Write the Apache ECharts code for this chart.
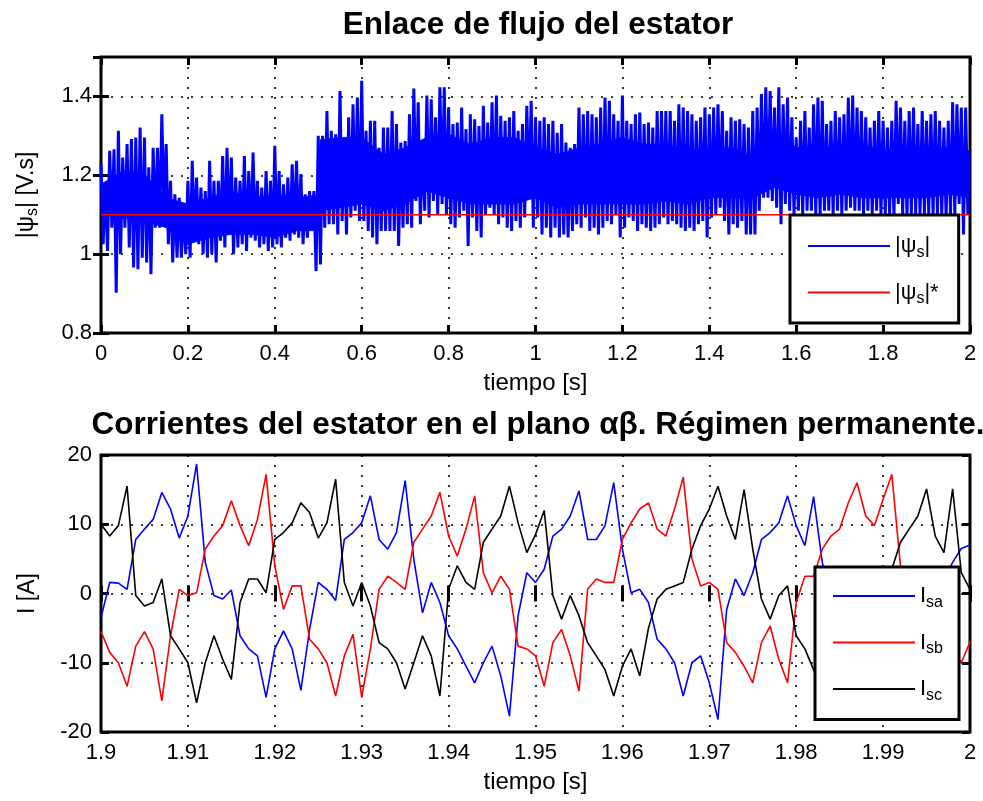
<!DOCTYPE html>
<html>
<head>
<meta charset="utf-8">
<script src="https://cdn.jsdelivr.net/npm/echarts@6/dist/echarts.min.js"></script>
<style>
  html, body { margin: 0; padding: 0; background: #fff; }
  #chart { width: 983px; height: 801px; }
</style>
</head>
<body>
<div id="chart"></div>
<script>
// Stator flux magnitude |psi_s| (V.s): upper and lower excursion in each 10 ms window, t = 0 .. 2 s
const fluxHi = [
  1.23, 1.177, 1.262, 1.266, 1.313, 1.245, 1.279, 1.292, 1.296, 1.321,
  1.296, 1.22, 1.27, 1.27, 1.355, 1.279, 1.186, 1.152, 1.143, 1.118,
  1.186, 1.237, 1.194, 1.169, 1.16, 1.237, 1.186, 1.186, 1.249, 1.27,
  1.245, 1.194, 1.186, 1.249, 1.211, 1.258, 1.186, 1.169, 1.211, 1.186,
  1.275, 1.211, 1.177, 1.194, 1.228, 1.237, 1.203, 1.152, 1.16, 1.16,
  1.3, 1.3, 1.363, 1.313, 1.304, 1.414, 1.279, 1.347, 1.38, 1.397,
  1.44, 1.313, 1.338, 1.338, 1.27, 1.321, 1.321, 1.363, 1.33, 1.283,
  1.287, 1.355, 1.42, 1.385, 1.287, 1.402, 1.393, 1.347, 1.423, 1.423,
  1.372, 1.33, 1.334, 1.372, 1.317, 1.355, 1.342, 1.325, 1.376, 1.334,
  1.385, 1.402, 1.351, 1.338, 1.347, 1.363, 1.313, 1.33, 1.376, 1.389,
  1.347, 1.338, 1.347, 1.33, 1.338, 1.308, 1.33, 1.283, 1.27, 1.279,
  1.372, 1.355, 1.363, 1.355, 1.347, 1.372, 1.397, 1.389, 1.355, 1.338,
  1.402, 1.338, 1.33, 1.355, 1.359, 1.33, 1.334, 1.321, 1.363, 1.363,
  1.363, 1.363, 1.338, 1.38, 1.372, 1.363, 1.355, 1.338, 1.347, 1.372,
  1.355, 1.372, 1.38, 1.363, 1.313, 1.347, 1.338, 1.342, 1.33, 1.321,
  1.363, 1.372, 1.406, 1.423, 1.414, 1.372, 1.423, 1.38, 1.397, 1.347,
  1.296, 1.338, 1.363, 1.321, 1.38, 1.397, 1.389, 1.33, 1.338, 1.363,
  1.347, 1.355, 1.397, 1.402, 1.372, 1.363, 1.347, 1.321, 1.338, 1.363,
  1.338, 1.321, 1.338, 1.389, 1.372, 1.338, 1.363, 1.372, 1.33, 1.363,
  1.338, 1.355, 1.363, 1.338, 1.321, 1.338, 1.385, 1.38, 1.372, 1.372
];
const fluxLo = [
  1.025, 1.008, 1.067, 0.902, 1.0, 1.067, 1.017, 0.966, 0.962, 0.991,
  0.979, 0.949, 1.067, 1.067, 1.11, 1.025, 0.979, 0.991, 0.991, 1.0,
  0.991, 1.042, 1.025, 1.0, 0.991, 1.0, 0.979, 1.034, 1.017, 1.05,
  1.0, 1.017, 1.025, 1.008, 1.042, 1.034, 1.017, 1.025, 1.008, 1.017,
  1.025, 1.017, 1.042, 1.034, 1.05, 1.042, 1.025, 1.042, 1.067, 0.957,
  0.974, 1.067, 1.076, 1.076, 1.05, 1.084, 1.05, 1.093, 1.11, 1.084,
  1.084, 1.059, 1.042, 1.025, 1.059, 1.059, 1.059, 1.059, 1.021, 1.067,
  1.076, 1.067, 1.135, 1.076, 1.11, 1.093, 1.135, 1.101, 1.127, 1.101,
  1.076, 1.067, 1.093, 1.11, 1.021, 1.093, 1.059, 1.042, 1.101, 1.118,
  1.101, 1.076, 1.093, 1.067, 1.059, 1.084, 1.067, 1.093, 1.143, 1.067,
  1.093, 1.05, 1.067, 1.042, 1.067, 1.042, 1.05, 1.042, 1.059, 1.076,
  1.067, 1.093, 1.059, 1.067, 1.05, 1.067, 1.084, 1.076, 1.101, 1.042,
  1.067, 1.093, 1.084, 1.059, 1.076, 1.067, 1.059, 1.067, 1.076, 1.093,
  1.076, 1.084, 1.076, 1.067, 1.059, 1.067, 1.059, 1.076, 1.084, 1.042,
  1.093, 1.101, 1.118, 1.084, 1.05, 1.076, 1.067, 1.084, 1.05, 1.05,
  1.05, 1.11, 1.143, 1.143, 1.135, 1.118, 1.076, 1.127, 1.11, 1.101,
  1.11, 1.101, 1.11, 1.11, 1.101, 1.093, 1.11, 1.11, 1.101, 1.11,
  1.101, 1.11, 1.118, 1.11, 1.11, 1.101, 1.11, 1.101, 1.11, 1.101,
  1.101, 1.101, 1.093, 1.127, 1.101, 1.093, 1.101, 1.101, 1.101, 1.101,
  1.101, 1.101, 1.101, 1.101, 1.093, 1.101, 1.101, 1.127, 1.05, 1.101
];
const fluxWindow = 0.01;   // s

// Dense part of the flux trace (V.s): times and the band the oscillation keeps filling
const coreT = [
  0, 0.05, 0.1, 0.15, 0.2, 0.25, 0.3, 0.35, 0.4, 0.45, 0.5,
  0.505,
  0.55, 0.6, 0.65, 0.7, 0.75, 0.8, 0.85, 0.9, 0.95, 1.0,
  1.05, 1.1, 1.15, 1.2, 1.25, 1.3, 1.35, 1.4, 1.45, 1.5,
  1.55, 1.6, 1.65, 1.7, 1.75, 1.8, 1.85, 1.9, 1.95, 2.0
];
const coreHi = [
  1.177, 1.211, 1.203, 1.143, 1.127, 1.143, 1.16, 1.143, 1.152, 1.143, 1.15,
  1.29,
  1.296, 1.296, 1.253, 1.27, 1.296, 1.304, 1.279, 1.296, 1.296, 1.27,
  1.253, 1.27, 1.279, 1.296, 1.279, 1.279, 1.262, 1.27, 1.27, 1.245,
  1.313, 1.27, 1.27, 1.27, 1.279, 1.262, 1.262, 1.27, 1.27, 1.262
];
const coreLo = [
  1.101, 1.093, 1.084, 1.067, 1.025, 1.042, 1.05, 1.05, 1.042, 1.059, 1.06,
  1.11,
  1.118, 1.127, 1.11, 1.127, 1.16, 1.143, 1.127, 1.127, 1.127, 1.143,
  1.118, 1.127, 1.127, 1.127, 1.127, 1.135, 1.127, 1.143, 1.143, 1.143,
  1.169, 1.152, 1.143, 1.152, 1.143, 1.143, 1.143, 1.143, 1.152, 1.143
];
const fluxRef = 1.1;       // |psi_s|* (V.s)
const fluxSpan = [0, 2];   // s

// Stator phase currents (A), one sample per millisecond from t = 1.9 s
const iSa = [
  -3.5, 1.6, 1.5, 0.6, 7.8, 9.3, 10.7, 14.6, 12.2, 8.0,
  11.2, 18.7, 4.5, -0.3, -0.8, 0.5, -6.1, -8.0, -9.0, -15.0,
  -8.0, -5.4, -8.0, -14.0, -5.2, 1.6, 0.6, -1.0, 7.8, 8.8,
  10.2, 14.1, 7.8, 6.4, 8.8, 16.3, 4.9, -2.8, 1.6, -1.3,
  -6.1, -8.0, -10.5, -12.9, -10.0, -7.6, -11.9, -17.7, -3.2, 3.0,
  1.6, 3.5, 8.3, 9.3, 11.2, 14.8, 7.8, 7.8, 9.8, 16.0,
  6.4, 0.1, 0.6, -1.3, -6.6, -8.0, -10.0, -14.8, -10.0, -9.0,
  -12.9, -18.2, -2.3, 2.1, -0.3, 3.0, 7.8, 8.8, 10.2, 14.1,
  9.8, 6.9, 14.0, 4.5, -0.5, 0.5, -1.0, -5.0, -7.0, -8.0,
  -10.0, -12.0, -9.0, -8.0, -14.0, -16.0, -5.0, 2.0, 4.5, 6.5, 7.0
];
const iSb = [
  -5.5, -8.5, -10.0, -13.4, -7.6, -5.5, -8.0, -15.5, -6.1, 0.6,
  -0.3, 0.1, 6.4, 8.3, 9.8, 13.4, 9.8, 6.9, 10.7, 17.2,
  4.0, -2.3, 1.1, 1.1, -6.6, -8.0, -10.0, -14.8, -9.0, -5.9,
  -15.0, -8.0, 0.6, 2.5, 1.6, 0.6, 7.4, 9.3, 11.2, 14.6,
  8.3, 5.4, 9.3, 14.1, 3.0, 0.1, 2.5, 0.6, -7.6, -8.0,
  -9.0, -13.4, -7.1, -5.2, -9.0, -14.1, 0.6, 2.1, 1.6, 1.6,
  7.8, 10.2, 12.2, 13.1, 9.3, 8.3, 12.2, 16.8, 5.0, 1.1,
  1.6, 0.6, -7.1, -8.5, -10.5, -12.9, -7.1, -4.7, -9.5, -12.9,
  -1.3, 2.5, 2.5, 6.4, 8.3, 9.3, 13.1, 16.0, 11.2, 9.8,
  13.6, 17.2, 4.0, 0.0, 1.0, 0.0, -4.0, -7.0, -8.0, -10.0, -7.0
];
const iSc = [
  10.0, 8.3, 9.8, 15.5, -0.3, -1.8, -1.3, 2.1, -6.1, -8.0,
  -10.0, -15.8, -10.0, -6.1, -9.5, -12.4, -1.3, 2.1, 2.1, 0.1,
  7.8, 8.8, 10.2, 13.1, 11.7, 8.0, 10.2, 16.5, 1.6, -1.8,
  1.6, -1.8, -7.1, -8.0, -10.0, -13.8, -10.0, -6.1, -9.0, -14.8,
  0.6, 4.0, 1.6, 0.6, 7.4, 9.3, 11.2, 15.5, 10.2, 5.9,
  8.5, 12.0, -0.3, -3.7, -0.3, -3.2, -7.1, -9.0, -11.0, -14.8,
  -10.5, -8.0, -11.9, -5.0, -0.8, 0.6, 1.1, 1.6, 6.4, 9.8,
  12.2, 15.5, 11.2, 7.8, 15.0, 6.4, -0.8, -3.7, -0.3, 1.1,
  -6.1, -8.0, -11.0, -14.0, -12.0, -9.0, -11.0, -14.0, -5.0, 0.0,
  2.0, 3.5, 7.4, 9.3, 11.2, 15.1, 8.3, 5.9, 15.1, 3.0, 0.6
];
const currentStart = 1.9;   // s
const currentStep = 0.001;  // s

const FONT = '"Liberation Sans", Arial, Helvetica, sans-serif';
const BLUE = '#0000ff';

// flux trace: each window contributes its high then its low excursion
const fluxData = [];
fluxHi.forEach((hi, k) => {
  fluxData.push([k * fluxWindow, hi]);
  fluxData.push([k * fluxWindow + fluxWindow / 2, fluxLo[k]]);
});
// dense band: one [t, low, high] row per sample, filled segment by segment
const coreData = coreT.map((t, i) => [t, coreLo[i], coreHi[i]]);
function renderCore(params, api) {
  const i = params.dataIndex;
  if (i >= coreData.length - 1) return null;
  const a = coreData[i], b = coreData[i + 1];
  const pts = [
    api.coord([a[0], a[1]]), api.coord([a[0], a[2]]),
    api.coord([b[0], b[2]]), api.coord([b[0], b[1]])
  ];
  return {
    type: 'polygon',
    shape: { points: pts },
    style: { fill: BLUE, stroke: BLUE, lineWidth: 0.8 }
  };
}
const refData = fluxSpan.map(t => [t, fluxRef]);
const toTime = arr => arr.map((v, i) => [currentStart + i * currentStep, v]);

const tickFmt = v => String(+v.toFixed(3));

function xPair(grid, min, max, interval, name, nameGap) {
  const common = {
    type: 'value', gridIndex: grid, min, max, interval,
    axisLine: { show: false },
    axisTick: { show: true, inside: true, length: 8, lineStyle: { color: '#000', width: 3 } }
  };
  return [
    Object.assign({}, common, {
      position: 'bottom',
      name, nameLocation: 'middle', nameGap,
      nameTextStyle: { fontFamily: FONT, fontSize: 24, color: '#000' },
      axisLabel: { show: true, margin: 10, fontFamily: FONT, fontSize: 22, color: '#000', formatter: tickFmt },
      splitLine: { show: true, lineStyle: { color: '#000', width: 1.6, type: [2, 8] } }
    }),
    Object.assign({}, common, {
      position: 'top', axisLabel: { show: false }, splitLine: { show: false }
    })
  ];
}
function yPair(grid, min, max, interval, name, nameGap) {
  const common = {
    type: 'value', gridIndex: grid, min, max, interval,
    axisLine: { show: false },
    axisTick: { show: true, inside: true, length: 8, lineStyle: { color: '#000', width: 3 } }
  };
  const lastOnGrid = Math.abs(min + Math.round((max - min) / interval) * interval - max) < 1e-9;
  return [
    Object.assign({}, common, {
      position: 'left',
      name, nameLocation: 'middle', nameGap, nameRotate: 90,
      nameTextStyle: {
        fontFamily: FONT, fontSize: 23, color: '#000',
        rich: {
          t: { fontFamily: FONT, fontSize: 23, color: '#000' },
          s: { fontFamily: FONT, fontSize: 16, color: '#000', padding: [12, 0, 0, 0] }
        }
      },
      axisLabel: { show: true, margin: 9, fontFamily: FONT, fontSize: 22, color: '#000', formatter: tickFmt, showMaxLabel: lastOnGrid },
      splitLine: { show: true, lineStyle: { color: '#000', width: 1.6, type: [2, 8] } }
    }),
    Object.assign({}, common, {
      position: 'right', axisLabel: { show: false }, splitLine: { show: false }
    })
  ];
}

const legendRich = {
  t: { fontFamily: FONT, fontSize: 22, color: '#000' },
  s: { fontFamily: FONT, fontSize: 16, color: '#000', padding: [13, 0, 0, 0] }
};
const legendLabels = {
  'psi': '{t||ψ}{s|s}{t||}',
  'psiRef': '{t||ψ}{s|s}{t||*}',
  'Isa': '{t|I}{s|sa}',
  'Isb': '{t|I}{s|sb}',
  'Isc': '{t|I}{s|sc}'
};
const legendBase = {
  orient: 'vertical',
  icon: 'rect', itemWidth: 82, itemHeight: 2,
  backgroundColor: '#fff', borderColor: '#000', borderWidth: 3, borderRadius: 0,
  selectedMode: false,
  formatter: n => legendLabels[n],
  textStyle: { fontFamily: FONT, fontSize: 22, color: '#000', rich: legendRich }
};

const chart = echarts.init(document.getElementById('chart'), null, { renderer: 'canvas' });
chart.setOption({
  animation: false,
  backgroundColor: '#fff',
  title: [
    { text: 'Enlace de flujo del estator', left: 533, top: 4, textAlign: 'center',
      textStyle: { fontFamily: FONT, fontSize: 31.5, fontWeight: 'bold', color: '#000' } },
    { text: 'Corrientes del estator en el plano αβ. Régimen permanente.', left: 533, top: 404, textAlign: 'center',
      textStyle: { fontFamily: FONT, fontSize: 31.5, fontWeight: 'bold', color: '#000' } }
  ],
  grid: [
    { left: 101, top: 57, width: 869, height: 276, show: true, borderColor: '#000', borderWidth: 3, backgroundColor: '#fff' },
    { left: 101, top: 455, width: 869, height: 277, show: true, borderColor: '#000', borderWidth: 3, backgroundColor: '#fff' }
  ],
  xAxis: [
    ...xPair(0, 0, 2, 0.2, 'tiempo [s]', 38),
    ...xPair(1, 1.9, 2.0, 0.01, 'tiempo [s]', 38)
  ],
  yAxis: [
    ...yPair(0, 0.8, 1.5, 0.2, '{t||ψ}{s|s}{t|| [V.s]}', 60),
    ...yPair(1, -20, 20, 10, 'I [A]', 62)
  ],
  legend: [
    Object.assign({}, legendBase, { data: ['psi', 'psiRef'], left: 790, top: 215, padding: [20, 20, 16, 18], itemGap: 21 }),
    Object.assign({}, legendBase, { data: ['Isa', 'Isb', 'Isc'], left: 815, top: 567, padding: [18, 16, 16, 18], itemGap: 21 })
  ],
  series: [
    { name: 'psiCore', type: 'custom', xAxisIndex: 0, yAxisIndex: 0, data: coreData,
      encode: { x: 0, y: [1, 2] }, renderItem: renderCore, silent: true },
    { name: 'psi', type: 'line', xAxisIndex: 0, yAxisIndex: 0, data: fluxData, showSymbol: false,
      lineStyle: { color: BLUE, width: 3 }, itemStyle: { color: BLUE } },
    { name: 'psiRef', type: 'line', xAxisIndex: 0, yAxisIndex: 0, data: refData, showSymbol: false,
      lineStyle: { color: '#ff0000', width: 1.6 }, itemStyle: { color: '#ff0000' } },
    { name: 'Isa', type: 'line', xAxisIndex: 2, yAxisIndex: 2, data: toTime(iSa), showSymbol: false,
      lineStyle: { color: BLUE, width: 1.6 }, itemStyle: { color: BLUE } },
    { name: 'Isb', type: 'line', xAxisIndex: 2, yAxisIndex: 2, data: toTime(iSb), showSymbol: false,
      lineStyle: { color: '#ff0000', width: 1.6 }, itemStyle: { color: '#ff0000' } },
    { name: 'Isc', type: 'line', xAxisIndex: 2, yAxisIndex: 2, data: toTime(iSc), showSymbol: false,
      lineStyle: { color: '#000000', width: 1.6 }, itemStyle: { color: '#000000' } }
  ]
});
</script>
</body>
</html>
